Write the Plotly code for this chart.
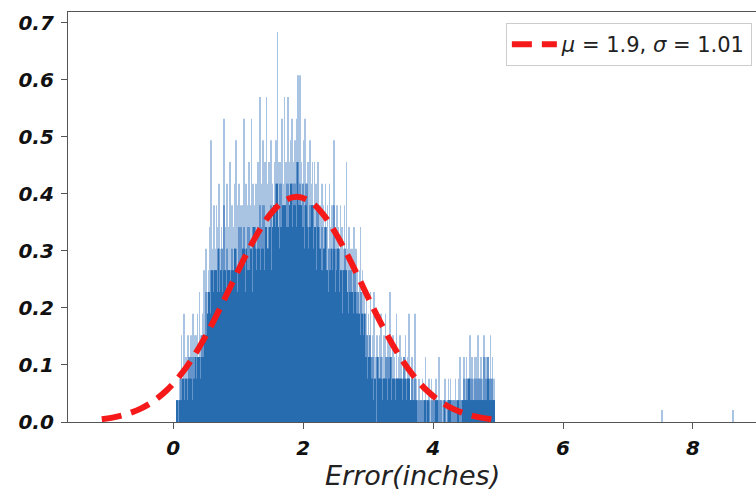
import plotly.graph_objects as go

# ---------------- data ----------------
bin_start = 0.05          # left edge of first histogram bin
bin_width = 0.01
count_to_density = 0.038  # density of one sample in one bin

# counts per bin, rows of 10 bins (0.1 in x each), from x=0.05 to x=4.95
bin_counts = [
    1, 1, 0, 1, 2, 1, 2, 4, 1, 2,
    2, 5, 1, 3, 2, 3, 1, 4, 2, 3,
    3, 2, 4, 3, 1, 5, 3, 2, 4, 3,
    4, 2, 5, 3, 3, 6, 2, 4, 3, 4,
    5, 3, 7, 4, 6, 8, 4, 6, 5, 7,
    6, 9, 5, 13, 7, 8, 6, 10, 7, 8,
    7, 10, 6, 9, 8, 11, 6, 8, 7, 9,
    8, 6, 10, 14, 7, 9, 6, 11, 8, 7,
    9, 7, 12, 6, 8, 10, 7, 9, 6, 11,
    8, 13, 7, 10, 6, 9, 11, 7, 9, 10,
    7, 10, 8, 14, 9, 6, 11, 8, 10, 7,
    9, 12, 7, 10, 8, 14, 6, 11, 9, 9,
    10, 8, 11, 7, 9, 12, 8, 10, 15, 7,
    9, 11, 8, 13, 10, 7, 12, 9, 15, 8,
    11, 8, 12, 9, 10, 13, 7, 11, 9, 10,
    10, 12, 9, 13, 11, 18, 9, 12, 8, 11,
    12, 9, 14, 10, 11, 8, 15, 10, 12, 9,
    11, 15, 9, 12, 10, 13, 11, 14, 9, 11,
    12, 10, 13, 11, 9, 14, 12, 16, 10, 11,
    16, 10, 12, 9, 11, 13, 8, 14, 10, 11,
    11, 9, 12, 8, 10, 13, 9, 11, 10, 12,
    10, 8, 12, 9, 11, 7, 10, 12, 9, 10,
    8, 10, 7, 11, 9, 6, 10, 8, 9, 11,
    9, 7, 10, 6, 8, 11, 7, 9, 8, 10,
    7, 10, 13, 8, 6, 9, 7, 10, 8, 9,
    8, 6, 10, 7, 9, 5, 8, 7, 10, 8,
    7, 12, 6, 8, 5, 9, 7, 6, 8, 7,
    6, 8, 5, 9, 7, 6, 8, 5, 7, 6,
    5, 7, 4, 9, 6, 5, 7, 4, 6, 5,
    5, 3, 6, 4, 2, 5, 3, 4, 6, 3,
    2, 4, 3, 1, 6, 2, 3, 0, 4, 3,
    3, 2, 4, 2, 5, 3, 1, 3, 2, 4,
    2, 5, 3, 2, 1, 4, 3, 2, 6, 3,
    3, 1, 2, 4, 2, 3, 1, 2, 5, 2,
    2, 3, 1, 2, 4, 2, 3, 1, 2, 3,
    3, 2, 4, 1, 2, 3, 2, 5, 2, 1,
    1, 2, 3, 1, 2, 1, 2, 5, 1, 2,
    1, 0, 1, 2, 0, 1, 1, 0, 2, 1,
    0, 1, 1, 3, 1, 0, 1, 1, 2, 0,
    1, 0, 2, 1, 0, 1, 1, 0, 1, 2,
    1, 1, 0, 1, 3, 0, 1, 1, 0, 1,
    0, 1, 1, 2, 0, 1, 0, 1, 2, 1,
    1, 2, 0, 1, 1, 0, 1, 1, 0, 2,
    1, 0, 1, 1, 2, 0, 3, 1, 0, 1,
    1, 2, 3, 1, 2, 1, 3, 2, 1, 2,
    2, 4, 1, 2, 3, 1, 2, 1, 3, 2,
    1, 3, 2, 1, 4, 2, 1, 2, 3, 1,
    2, 1, 3, 4, 1, 2, 3, 1, 2, 3,
    3, 1, 2, 4, 1, 2, 3, 1, 2, 1,
]

# isolated outlier bins far to the right
outlier_x = [7.52, 8.62]
outlier_density = [0.021, 0.021]

# fitted normal curve
curve_x = [-1.1, -0.9, -0.7, -0.5, -0.3, -0.1, 0.1, 0.3, 0.5, 0.7, 0.9,
           1.1, 1.3, 1.5, 1.7, 1.9, 2.1, 2.3, 2.5, 2.7, 2.9, 3.1, 3.3,
           3.5, 3.7, 3.9, 4.1, 4.3, 4.5, 4.7, 4.9]
curve_y = [0.005, 0.0085, 0.0144, 0.0235, 0.0369, 0.0556, 0.0807, 0.1126,
           0.1511, 0.195, 0.242, 0.2887, 0.3311, 0.3652, 0.3873, 0.395,
           0.3873, 0.3652, 0.3311, 0.2887, 0.242, 0.195, 0.1511, 0.1126,
           0.0807, 0.0556, 0.0369, 0.0235, 0.0144, 0.0085, 0.005]
curve_label = "<i>μ</i> = 1.9, <i>σ</i> = 1.01"

x_ticks = [0, 2, 4, 6, 8]
y_ticks = [0.0, 0.1, 0.2, 0.3, 0.4, 0.5, 0.6, 0.7]
x_title = "<i>Error(inches)</i>"

# ---------------- figure ----------------
n = len(bin_counts)
bx = [bin_start + bin_width * (i + 0.5) for i in range(n)]
h = [c * count_to_density for c in bin_counts]
# thin bins blend into each other on screen: draw the full bins pale,
# the part shared with a neighbour in mid tone, the part shared by all three dark
trip = [sorted([h[max(i - 1, 0)], h[i], h[min(i + 1, n - 1)]]) for i in range(n)]
mid_h = [min(h[i], t[1]) for i, t in enumerate(trip)]
core_h = [t[0] for t in trip]

fig = go.Figure()
fig.add_trace(go.Bar(
    x=bx + outlier_x, y=h + outlier_density, width=[bin_width] * n + [0.009] * len(outlier_x),
    marker=dict(color="rgb(168,196,226)", line=dict(width=0)),
    showlegend=False, hoverinfo="skip",
))
fig.add_trace(go.Bar(
    x=bx, y=mid_h, width=bin_width,
    marker=dict(color="rgb(100,148,202)", line=dict(width=0)),
    showlegend=False, hoverinfo="skip",
))
fig.add_trace(go.Bar(
    x=bx, y=core_h, width=bin_width,
    marker=dict(color="rgb(40,108,176)", line=dict(width=0)),
    showlegend=False, hoverinfo="skip",
))
fig.add_trace(go.Scatter(
    x=curve_x, y=curve_y, mode="lines", name=curve_label,
    line=dict(color="rgb(245,25,25)", width=6, dash="20px,10px", shape="spline"),
))

tick_font = dict(family="DejaVu Sans", size=20, color="#111")
fig.update_layout(
    width=756, height=493,
    margin=dict(l=68, r=0, t=12, b=71),
    paper_bgcolor="white", plot_bgcolor="white",
    barmode="overlay", bargap=0.01,
    xaxis=dict(
        range=[-1.62, 8.97], tickvals=x_ticks, ticktext=[f"<b><i>{v}</i></b>" for v in x_ticks],
        showline=True, linecolor="#555", linewidth=1.3, mirror=True,
        ticks="outside", ticklen=6, tickcolor="#555", showgrid=False, zeroline=False,
        tickfont=tick_font, automargin=False, ticklabelstandoff=2,
    ),
    yaxis=dict(
        range=[0, 0.719], tickvals=y_ticks, ticktext=[f"<b><i>{v:.1f}</i></b>" for v in y_ticks],
        showline=True, linecolor="#555", linewidth=1.3,
        ticks="outside", ticklen=6, tickcolor="#555", showgrid=False, zeroline=False,
        tickfont=tick_font, automargin=False, ticklabelstandoff=3,
    ),
    legend=dict(
        x=0.994, y=0.973, xanchor="right", yanchor="top",
        bgcolor="white", bordercolor="#ccc", borderwidth=1,
        font=dict(family="DejaVu Sans", size=21, color="#222"),
        itemwidth=45,
    ),
    annotations=[dict(
        text=x_title, xref="paper", yref="paper", x=0.5, y=-0.13,
        xanchor="center", yanchor="middle", showarrow=False,
        font=dict(family="DejaVu Sans", size=27, color="#222"),
    )],
)

fig.write_html("out.html", config={"displayModeBar": False},
               post_script="document.body.style.margin='0';document.body.style.overflow='hidden';")
